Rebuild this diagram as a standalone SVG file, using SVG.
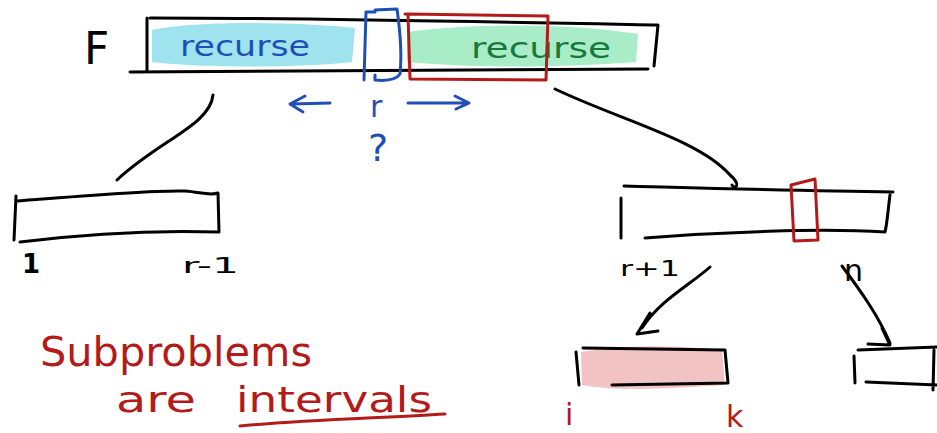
<svg xmlns="http://www.w3.org/2000/svg" width="937" height="433" viewBox="0 0 937 433">
<style>
.k{fill:none;stroke:#000;stroke-width:3;stroke-linecap:round;stroke-linejoin:round}
.b{fill:none;stroke:#1f4fb5;stroke-width:3;stroke-linecap:round;stroke-linejoin:round}
.r{fill:none;stroke:#b31b1b;stroke-width:3;stroke-linecap:round;stroke-linejoin:round}
.t{font-family:"DejaVu Sans","Liberation Sans",sans-serif}
.blk{fill:#000}
.blu{fill:#1f4fb5}
.grn{fill:#17793a}
.red{fill:#b31b1b}
</style>
<rect width="937" height="433" fill="#fff"/>

<g id="top-array">
  <path d="M152,30 C200,20 300,22 355,28 L352,62 C300,68 200,68 152,62 Z" fill="#9fe3ef"/>
  <path d="M407,32 C480,22 580,24 638,34 L636,62 C560,68 470,68 407,62 Z" fill="#a9ecc8"/>
  <text class="t blk" x="84" y="64" font-size="44">F</text>
  <path class="k" d="M147,18 L147,70 M150,18 C300,18 500,22 658,25 L654,66 M130,72 L648,69"/>
  <text class="t blu" x="180" y="56" font-size="28" textLength="130" lengthAdjust="spacingAndGlyphs">recurse</text>
  <text class="t grn" x="471" y="58" font-size="28" textLength="140" lengthAdjust="spacingAndGlyphs">recurse</text>
  <path class="b" d="M366,12 L364,80 M366,12 L375,12 M375,10 L397,9 C400,30 402,55 400,74 C396,80 385,81 375,80 M375,75 L375,80"/>
  <path class="r" d="M408,14 L548,16 L546,80 L410,79 Z M405,14 L408,14"/>
  <path class="b" d="M330,103 L292,104 M305,96 L290,104 L303,112"/>
  <text class="t blu" x="370" y="117" font-size="30">r</text>
  <path class="b" d="M408,103 L468,103 M455,96 L469,103 L456,109"/>
  <text class="t blu" x="368" y="161" font-size="38">?</text>
</g>

<g id="left-sub">
  <path class="k" d="M16,196 L14,240 M18,201 C80,196 150,190 185,191 C200,192 210,196 218,193 L219,232 C160,230 100,232 20,242"/>
  <text class="t blk" x="22" y="273" font-size="26" font-weight="bold">1</text>
  <text class="t blk" x="182" y="273" font-size="22" textLength="57" lengthAdjust="spacingAndGlyphs">r-1</text>
</g>

<g id="right-sub">
  <path class="k" d="M621,198 L621,238 M624,186 C700,188 800,191 893,192 M890,195 C888,210 887,225 885,232 C820,228 720,232 645,238"/>
  <path class="r" d="M791,185 L815,179 L818,240 L794,241 Z"/>
  <text class="t blk" x="620" y="276" font-size="22" textLength="60" lengthAdjust="spacingAndGlyphs">r+1</text>
  <text class="t blk" x="844" y="281" font-size="30">n</text>
</g>

<g id="sub-ik">
  <path d="M581,352 C620,345 680,345 722,350 L725,385 C680,388 620,392 582,385 Z" fill="#f2c3c3"/>
  <path class="k" d="M576,352 L579,385 M583,348 L725,350 L728,383 L612,385"/>
  <text class="t red" x="565" y="425" font-size="30">i</text>
  <text class="t red" x="726" y="427" font-size="30">k</text>
</g>

<g id="sub-right">
  <path class="k" d="M854,356 L855,383 M858,350 L937,347 M866,382 L937,385 M934,350 L933,390"/>
</g>

<g id="connectors">
  <path class="k" d="M213,95 C210,125 160,140 117,180"/>
  <path class="k" d="M555,89 C620,120 700,140 730,175 C742,185 735,190 732,185"/>
  <path class="k" d="M710,267 C690,285 660,300 642,328 M650,313 L637,334 L658,331"/>
  <path class="k" d="M842,266 C860,290 878,315 890,343 M882,328 L890,345 L868,344"/>
</g>

<g id="caption">
  <text class="t red" x="40" y="366" font-size="40" textLength="272" lengthAdjust="spacingAndGlyphs">Subproblems</text>
  <text class="t red" x="116" y="412" font-size="36" textLength="80" lengthAdjust="spacingAndGlyphs">are</text>
  <text class="t red" x="236" y="412" font-size="36" textLength="196" lengthAdjust="spacingAndGlyphs">intervals</text>
  <path class="r" d="M240,426 C300,420 380,418 445,414"/>
</g>
</svg>
